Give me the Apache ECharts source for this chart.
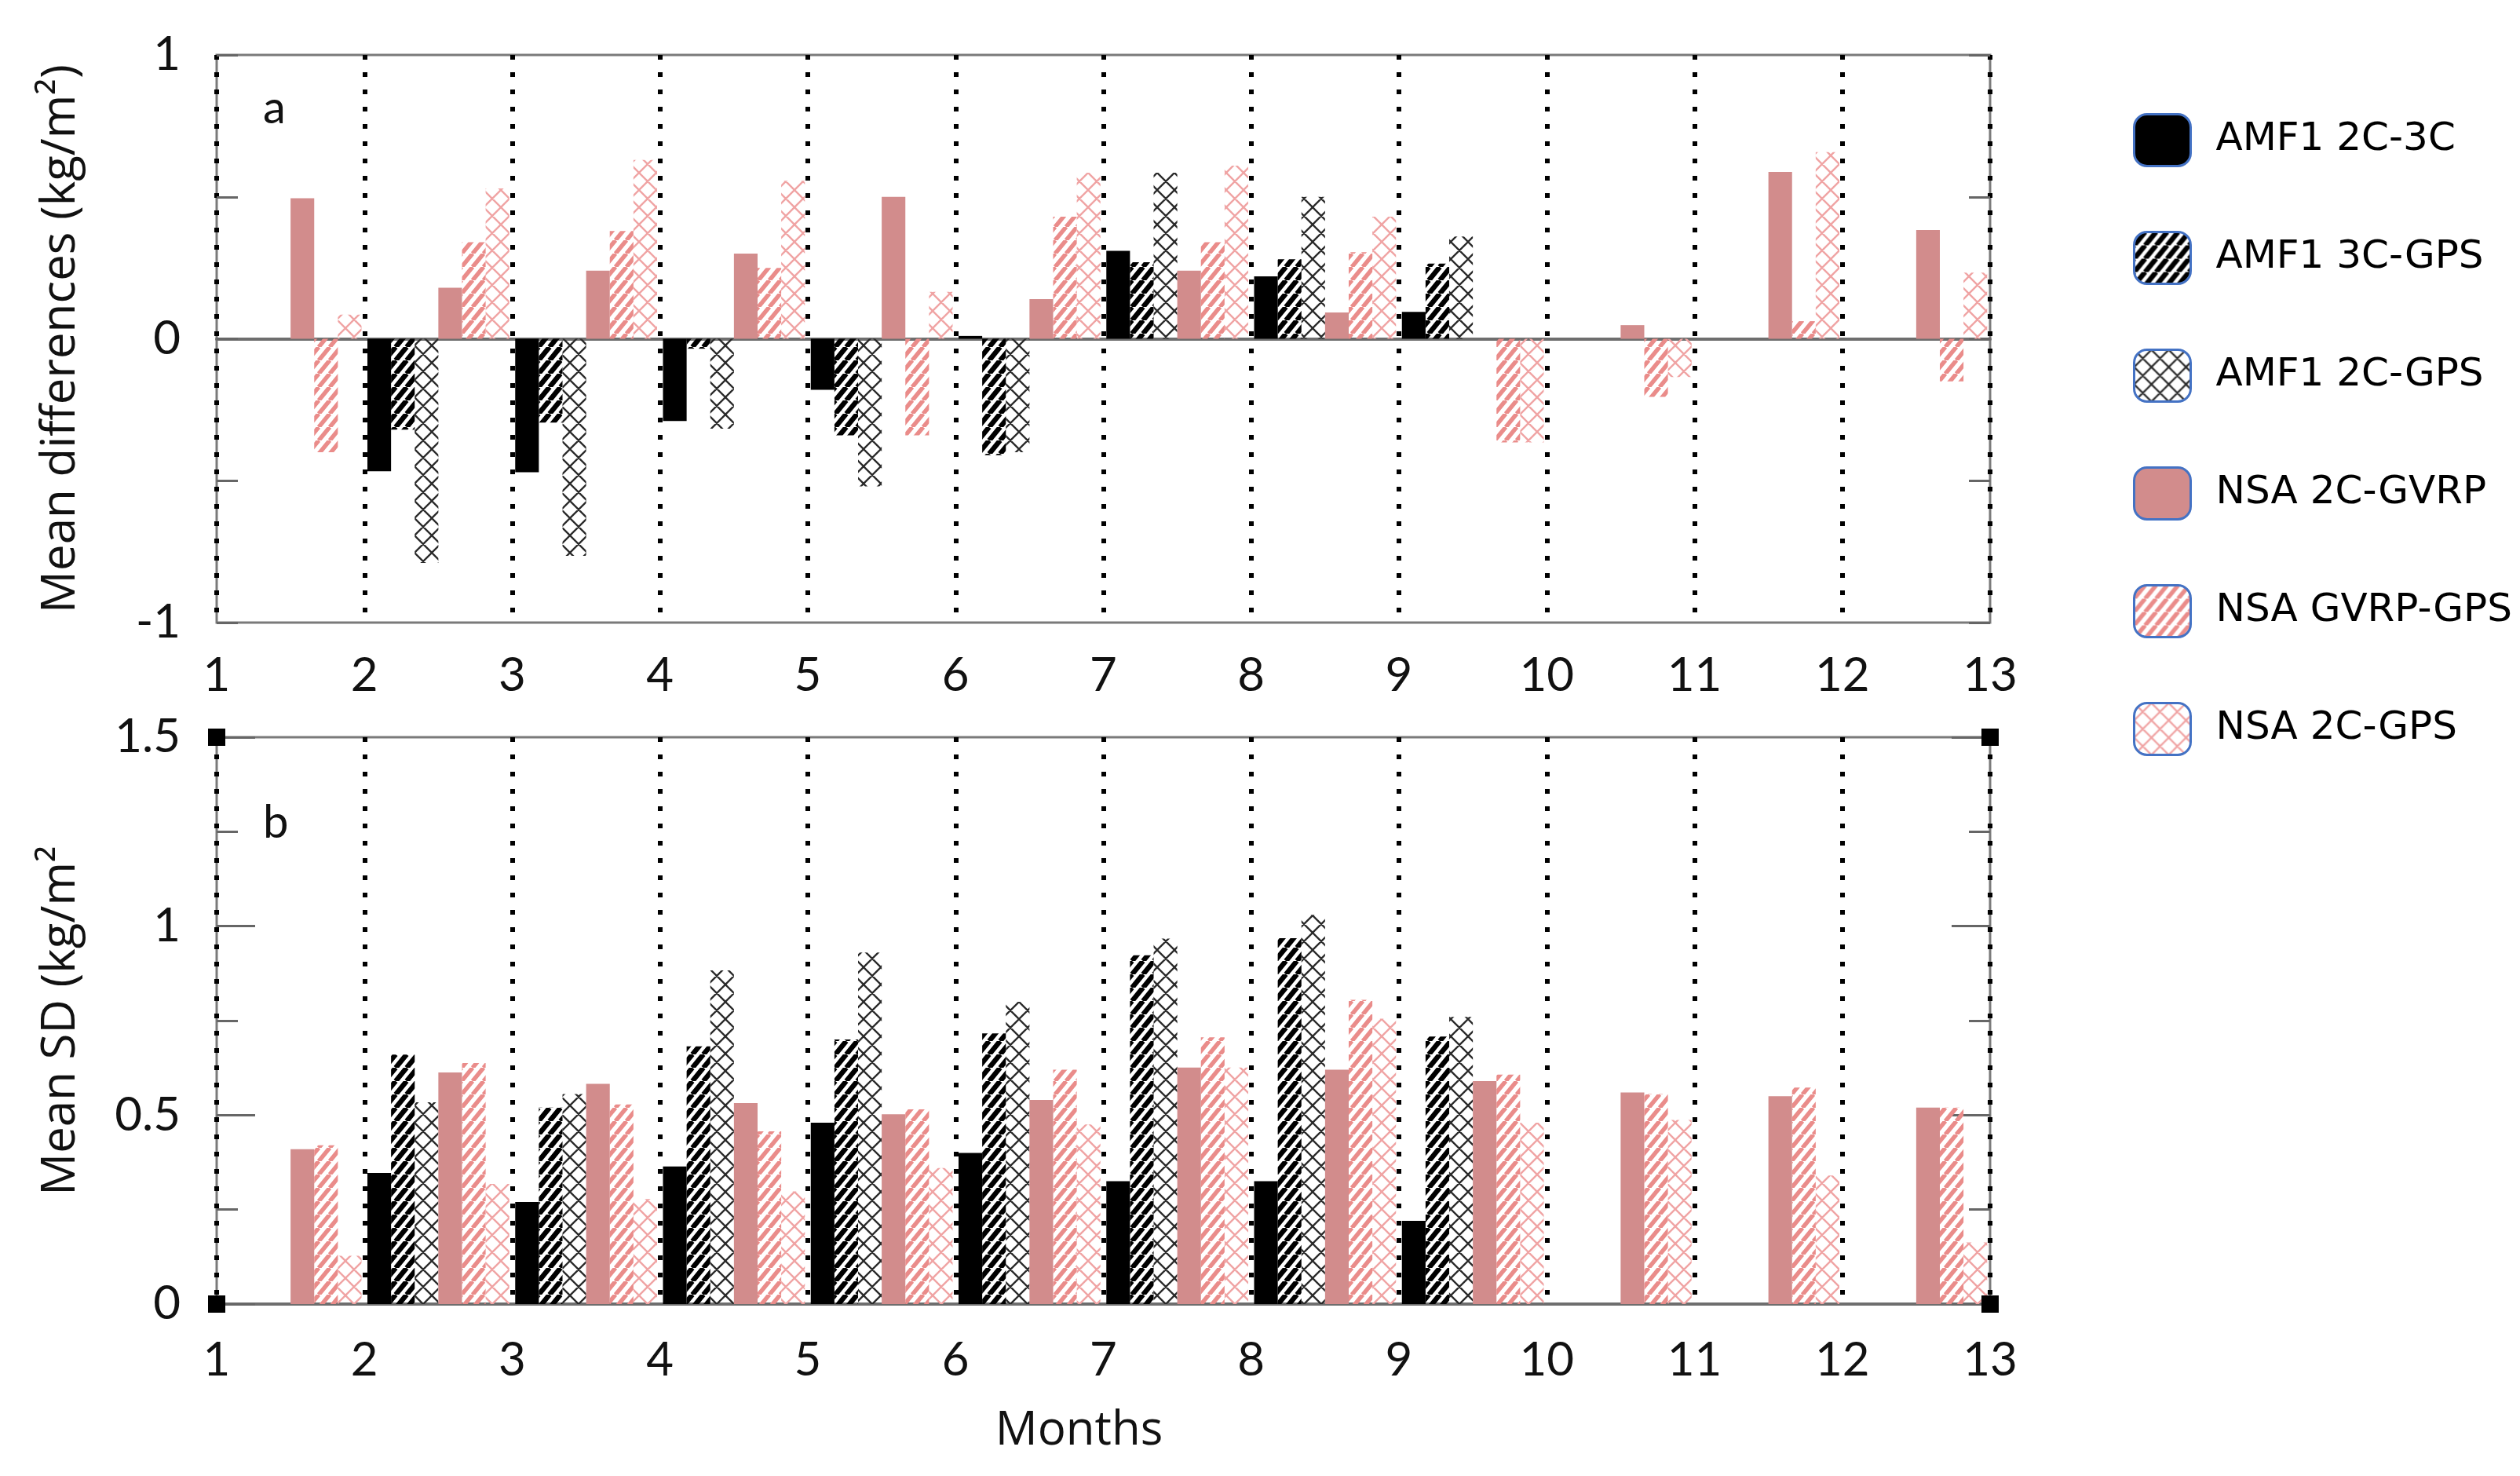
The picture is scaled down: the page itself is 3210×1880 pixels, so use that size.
<!DOCTYPE html>
<html><head><meta charset="utf-8">
<script src="https://cdn.jsdelivr.net/npm/echarts@6/dist/echarts.min.js"></script>
<style>html,body{margin:0;padding:0;background:#fff}#c{width:3210px;height:1880px}</style>
</head><body><div id="c"></div>
<script>
// ---- data ----
const months = ['1','2','3','4','5','6','7','8','9','10','11','12'];
const seriesNames = ['AMF1 2C-3C','AMF1 3C-GPS','AMF1 2C-GPS','NSA 2C-GVRP','NSA GVRP-GPS','NSA 2C-GPS'];

// panel a : mean differences (kg/m2)
const diffAMF1_2C_3C  = [null,-0.467,-0.47,-0.29,-0.18,0.01,0.31,0.22,0.095,null,null,null];
const diffAMF1_3C_GPS = [null,-0.32,-0.295,-0.035,-0.34,-0.41,0.27,0.28,0.265,null,null,null];
const diffAMF1_2C_GPS = [null,-0.79,-0.765,-0.317,-0.52,-0.40,0.585,0.50,0.36,null,null,null];
const diffNSA_2C_GVRP = [0.495,0.18,0.24,0.30,0.50,0.14,0.24,0.093,null,0.048,0.588,0.383];
const diffNSA_GVRP_GPS= [-0.40,0.34,0.38,0.25,-0.34,0.43,0.34,0.305,-0.365,-0.205,0.062,-0.15];
const diffNSA_2C_GPS  = [0.085,0.53,0.63,0.557,0.165,0.585,0.61,0.43,-0.365,-0.135,0.658,0.233];

// panel b : mean SD (kg/m2)
const sdAMF1_2C_3C  = [null,0.347,0.27,0.364,0.48,0.40,0.325,0.325,0.22,null,null,null];
const sdAMF1_3C_GPS = [null,0.66,0.52,0.682,0.70,0.716,0.923,0.968,0.708,null,null,null];
const sdAMF1_2C_GPS = [null,0.534,0.556,0.883,0.93,0.80,0.967,1.03,0.76,null,null,null];
const sdNSA_2C_GVRP = [0.41,0.613,0.583,0.532,0.502,0.54,0.626,0.62,0.59,0.56,0.55,0.52];
const sdNSA_GVRP_GPS= [0.42,0.638,0.528,0.457,0.515,0.62,0.706,0.805,0.607,0.556,0.573,0.52];
const sdNSA_2C_GPS  = [0.128,0.318,0.278,0.298,0.36,0.475,0.626,0.755,0.48,0.487,0.34,0.163];

// ---- patterns ----
function stripes(color, w, h, lw){
  const c=document.createElement('canvas'); c.width=w; c.height=h;
  const g=c.getContext('2d'); g.strokeStyle=color; g.lineWidth=lw;
  g.beginPath();
  for(let k=-1;k<=1;k++){ g.moveTo(k*w,h); g.lineTo(k*w+w,0); }
  g.stroke();
  return {image:c, repeat:'repeat'};
}
function cross(color, w, h, lw){
  const c=document.createElement('canvas'); c.width=w; c.height=h;
  const g=c.getContext('2d'); g.strokeStyle=color; g.lineWidth=lw;
  g.beginPath();
  for(let i=-1;i<=1;i++) for(let j=-1;j<=1;j++){
    const x=i*w, y=j*h;
    g.moveTo(x,y); g.lineTo(x+w,y+h);
    g.moveTo(x,y+h); g.lineTo(x+w,y);
  }
  g.stroke();
  return {image:c, repeat:'repeat'};
}
const fills = [
  '#000000',
  stripes('#000000',14,17,6.5),
  cross('#2a2a2a',22,22,2.3),
  '#d28c8c',
  stripes('#ea8c8a',14,17,5.5),
  cross('#f0a4a4',22,22,2.4)
];

const tickFont = 'Lato';
const nameFont = 'Open Sans';
const gridLine = {show:true, lineStyle:{color:'#000', width:6, type:[6,16]}};
const GA = {left:276, top:70, width:2259, height:723};
const GB = {left:276, top:939, width:2259, height:722};

function yAxes(gi, min, max, interval, name, majorLen){
  return [
    {type:'value', gridIndex:gi, position:'left', min:min, max:max, interval:interval,
     name:name, nameLocation:'middle', nameGap:168, nameRotate:90,
     nameTextStyle:{fontFamily:nameFont, fontSize:60, color:'#111'},
     axisLine:{show:false, onZero:false},
     axisTick:{show:true, inside:true, length:majorLen, lineStyle:{color:'#666', width:3}},
     minorTick:{show:true, splitNumber:2, length:27, lineStyle:{color:'#666', width:3}},
     axisLabel:{fontFamily:tickFont, fontSize:60, color:'#111', margin:46},
     splitLine:{show:false}},
    {type:'value', gridIndex:gi, position:'right', min:min, max:max, interval:interval,
     axisLine:{show:false, onZero:false},
     axisTick:{show:true, inside:true, length:majorLen, lineStyle:{color:'#666', width:3}},
     minorTick:{show:true, splitNumber:2, length:27, lineStyle:{color:'#666', width:3}},
     axisLabel:{show:false}, splitLine:{show:false}}
  ];
}
function xAxes(gi, margin, name){
  const ax = [
    {type:'category', gridIndex:gi, data:months, position:'bottom',
     axisLine:{show:true, onZero:true, lineStyle:{color:'#6e6e6e', width:4}},
     axisTick:{show:false}, axisLabel:{show:false}, splitLine:{show:false}},
    {type:'value', gridIndex:gi, position:'bottom', min:1, max:13, interval:1,
     axisLine:{show:false, onZero:false}, axisTick:{show:false},
     axisLabel:{fontFamily:tickFont, fontSize:60, color:'#111', margin:margin},
     splitLine:gridLine}
  ];
  if(name){
    ax[1].name=name; ax[1].nameLocation='middle'; ax[1].nameGap=132;
    ax[1].nameTextStyle={fontFamily:nameFont, fontSize:60, color:'#111', padding:[0,62,0,0]};
  }
  return ax;
}

const dataA=[diffAMF1_2C_3C,diffAMF1_3C_GPS,diffAMF1_2C_GPS,diffNSA_2C_GVRP,diffNSA_GVRP_GPS,diffNSA_2C_GPS];
const dataB=[sdAMF1_2C_3C,sdAMF1_3C_GPS,sdAMF1_2C_GPS,sdNSA_2C_GVRP,sdNSA_GVRP_GPS,sdNSA_2C_GPS];
const series=[];
[dataA,dataB].forEach((set,gi)=>{
  set.forEach((d,i)=>{
    series.push({type:'bar', name:seriesNames[i], data:d,
      xAxisIndex:gi*2, yAxisIndex:gi*2,
      barGap:'0%', barCategoryGap:'4%',
      itemStyle:{color:fills[i]}, silent:true, animation:false});
  });
});

// small black corner squares on panel b frame
const sq=22;
const corners=[[GB.left,GB.top],[GB.left,GB.top+GB.height],[GB.left+GB.width,GB.top],[GB.left+GB.width,GB.top+GB.height]]
  .map(p=>({type:'rect', shape:{x:p[0]-sq/2, y:p[1]-sq/2, width:sq, height:sq}, style:{fill:'#000'}, z:100, silent:true}));

const chart=echarts.init(document.getElementById('c'),null,{renderer:'canvas'});
chart.setOption({
  backgroundColor:'#ffffff',
  animation:false,
  title:[
    {text:'a', left:330, top:104, textStyle:{fontFamily:tickFont, fontSize:58, fontWeight:'normal', color:'#111'}},
    {text:'b', left:330, top:1014, textStyle:{fontFamily:tickFont, fontSize:58, fontWeight:'normal', color:'#111'}}
  ],
  grid:[
    Object.assign({show:true, borderColor:'#7a7a7a', borderWidth:3, backgroundColor:'transparent'}, GA),
    Object.assign({show:true, borderColor:'#7a7a7a', borderWidth:3, backgroundColor:'transparent'}, GB)
  ],
  xAxis:[...xAxes(0,38,null), ...xAxes(1,42,'Months')],
  yAxis:[...yAxes(0,-1,1,1,'Mean differences (kg/m\u00B2)',27), ...yAxes(1,0,1.5,0.5,'Mean SD (kg/m\u00B2',49)],
  legend:{orient:'vertical', left:2712, top:139, itemWidth:72, itemHeight:66, itemGap:81,
    icon:'roundRect', selectedMode:false, data:seriesNames,
    itemStyle:{borderColor:'#4472c4', borderWidth:3},
    textStyle:{fontFamily:'DejaVu Sans', fontSize:50, color:'#000', padding:[0,0,0,27]}},
  graphic:corners,
  series:series
});
</script></body></html>
